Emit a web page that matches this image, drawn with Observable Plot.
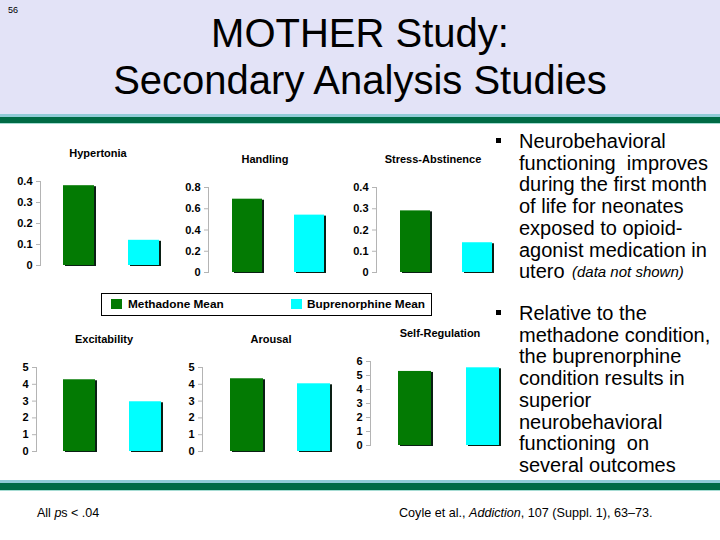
<!DOCTYPE html>
<html>
<head>
<meta charset="utf-8">
<script src="https://cdn.jsdelivr.net/npm/d3@7"></script>
<script src="https://cdn.jsdelivr.net/npm/@observablehq/plot@0.6"></script>
<style>
  html, body { margin: 0; padding: 0; background: #fff; }
  #slide { position: relative; width: 720px; height: 540px; overflow: hidden; background: #fff;
           font-family: "Liberation Sans", Arial, sans-serif; color: #000; }
  .abs { position: absolute; }
  .band { position: absolute; left: 0; width: 720px; }
  .ctitle { position: absolute; font-weight: bold; font-size: 11px; line-height: 1; transform: translate(-50%, -50%); white-space: nowrap; }
  .line { position: absolute; font-size: 20px; line-height: 20px; white-space: pre; }
  .dot { position: absolute; width: 5px; height: 5px; background: #000; }
</style>
</head>
<body>
<div id="slide">
  <div class="band" style="top:0;height:114px;background:#e3e3f7"></div>
  <div class="band" style="top:114px;height:3px;background:#8fcbd6"></div>
  <div class="band" style="top:117px;height:6px;background:#006b45"></div>
  <div class="band" style="top:123px;height:1px;background:#a6dcd3"></div>
  <div class="band" style="top:480px;height:3px;background:#8fcbd6"></div>
  <div class="band" style="top:483px;height:7px;background:#006b45"></div>
  <div class="band" style="top:490px;height:1px;background:#a6dcd3"></div>

  <div class="abs" style="left:8px;top:5px;font-size:9px;">56</div>
  <div class="abs" style="left:0;top:10px;width:720px;text-align:center;font-size:40px;line-height:47px;">MOTHER Study:<br>Secondary Analysis Studies</div>

  <div class="abs" style="left:37px;top:506px;font-size:12.5px;">All <i>p</i>s &lt; .04</div>
  <div class="abs" style="left:399px;top:506px;font-size:12.6px;">Coyle et al., <i>Addiction</i>, 107 (Suppl. 1), 63–73.</div>

  <div id="legend" class="abs" style="left:101px;top:293px;width:329px;height:21px;border:1.5px solid #000;"></div>
</div>
<script>
// ---- data ----
const outcomes = ["Hypertonia", "Handling", "Stress-Abstinence", "Excitability", "Arousal", "Self-Regulation"];
const groups = ["Methadone Mean", "Buprenorphine Mean"];
const methadone = [0.38, 0.69, 0.29, 4.27, 4.33, 5.29];
const buprenorphine = [0.12, 0.54, 0.14, 2.96, 4.03, 5.55];
const yMax = [0.4, 0.8, 0.4, 5, 5, 6];
const yTicks = [
  [0, 0.1, 0.2, 0.3, 0.4],
  [0, 0.2, 0.4, 0.6, 0.8],
  [0, 0.1, 0.2, 0.3, 0.4],
  [0, 1, 2, 3, 4, 5],
  [0, 1, 2, 3, 4, 5],
  [0, 1, 2, 3, 4, 5, 6]
];
const colors = ["#037a03", "#00ffff"];
const bullet1 = ["Neurobehavioral", "functioning  improves", "during the first month", "of life for neonates",
                 "exposed to opioid-", "agonist medication in", "utero"];
const bullet1Note = "(data not shown)";
const bullet2 = ["Relative to the", "methadone condition,", "the buprenorphine", "condition results in",
                 "superior", "neurobehavioral", "functioning  on", "several outcomes"];

// ---- layout (page pixels) ----
const layout = [
  {axis: 40,  yTop: 181, y0: 265, g: [63, 97],   c: [128, 159], tx: 98,  ty: 153},
  {axis: 208, yTop: 187, y0: 272, g: [232, 264], c: [295, 327], tx: 265, ty: 159},
  {axis: 376, yTop: 187, y0: 272, g: [400, 432], c: [463, 495], tx: 433, ty: 159},
  {axis: 36,  yTop: 367, y0: 451, g: [63, 97],   c: [129, 163], tx: 104, ty: 339},
  {axis: 202, yTop: 367, y0: 451, g: [230, 264], c: [297, 332], tx: 271, ty: 339},
  {axis: 370, yTop: 361, y0: 445, g: [398, 433], c: [466, 500], tx: 440, ty: 333}
];

const slide = document.getElementById("slide");
const ML = 40, MT = 8, MB = 8;

outcomes.forEach((name, i) => {
  const L = layout[i];
  const left = L.axis - ML;
  const top = L.yTop - MT;
  const height = (L.y0 - L.yTop) + MT + MB;
  const width = L.c[1] - left + 6;
  const bw = ((L.g[1] - L.g[0]) + (L.c[1] - L.c[0])) / 2 - 2;
  const step = L.c[0] - L.g[0];
  const data = groups.map((g, j) => ({group: g, value: j === 0 ? methadone[i] : buprenorphine[i]}));
  const fmt = yMax[i] < 1 ? (d => d === 0 ? "0" : d3.format(".1f")(d)) : (d => String(d));
  const svg = Plot.plot({
    width, height,
    marginLeft: ML, marginTop: MT, marginBottom: MB, marginRight: 0,
    x: {type: "band", domain: groups, range: [L.g[0] - left, L.g[0] - left + step + bw],
        paddingInner: 1 - bw / step, paddingOuter: 0, align: 0, axis: null},
    y: {domain: [0, yMax[i]]},
    color: {domain: groups, range: colors},
    style: {background: "transparent", overflow: "visible", fontFamily: "'Liberation Sans', Arial, sans-serif",
            fontSize: "11px", fontWeight: "bold", color: "#000"},
    marks: [
      Plot.frame({anchor: "left", stroke: "#b4b4b4"}),
      Plot.axisY({ticks: yTicks[i], tickFormat: fmt, tickSize: 4, tickPadding: 4, stroke: "#b4b4b4", fill: "#000", label: null}),
      Plot.barY(data, {x: "group", y: "value", fill: "#0a1f14", dx: 2, dy: 1}),
      Plot.barY(data, {x: "group", y: "value", fill: "group"})
    ]
  });
  const box = document.createElement("div");
  box.className = "abs";
  box.style.left = left + "px";
  box.style.top = top + "px";
  box.appendChild(svg);
  slide.appendChild(box);

  const t = document.createElement("div");
  t.className = "ctitle";
  t.style.left = L.tx + "px";
  t.style.top = L.ty + "px";
  t.textContent = name;
  slide.appendChild(t);
});

// legend
const legend = document.getElementById("legend");
const legPos = [{sq: 9, tx: 26}, {sq: 189, tx: 205}];
groups.forEach((g, j) => {
  const sq = document.createElement("div");
  sq.className = "abs";
  sq.style.cssText = `left:${legPos[j].sq}px;top:5px;width:11px;height:10px;background:${colors[j]}`;
  legend.appendChild(sq);
  const tx = document.createElement("div");
  tx.className = "abs";
  tx.style.cssText = `left:${legPos[j].tx}px;top:3px;font-size:11.8px;font-weight:bold;line-height:14px;white-space:nowrap`;
  tx.textContent = g;
  legend.appendChild(tx);
});

// bullet text, one element per line
const LH = 21.7;
function addLine(text, x, yc, extra) {
  const d = document.createElement("div");
  d.className = "line";
  d.style.left = x + "px";
  d.style.top = (yc - 10) + "px";
  if (extra) d.style.cssText += extra;
  d.textContent = text;
  slide.appendChild(d);
  return d;
}
function addDot(yc) {
  const d = document.createElement("div");
  d.className = "dot";
  d.style.left = "496px";
  d.style.top = (yc - 3) + "px";
  slide.appendChild(d);
}
addDot(141);
bullet1.forEach((s, k) => addLine(s, 519, 141 + k * LH));
addLine(bullet1Note, 572, 141 + 6 * LH + 1, "font-size:15px;font-style:italic;");
addDot(313);
bullet2.forEach((s, k) => addLine(s, 519, 313 + k * LH));
</script>
</body>
</html>
